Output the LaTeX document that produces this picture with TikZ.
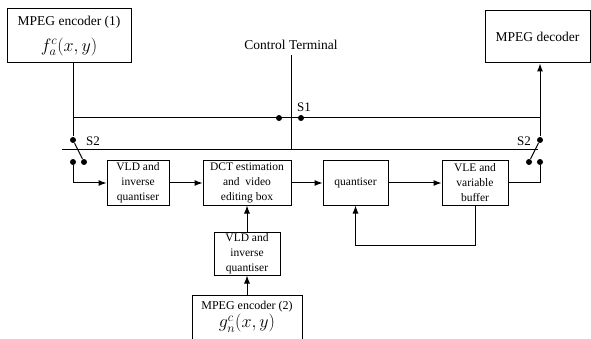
\RequirePackage{fix-cm}
\documentclass[tikz,border=0pt]{standalone}
\usepackage{fontspec}
\setmainfont{Liberation Serif}
\usepackage{amsmath}
\usepackage{tikz}
\usetikzlibrary{arrows.meta}
\tikzstyle{block}=[rectangle, draw, line width=1pt, align=center, inner sep=0pt, font=\fontsize{11.5}{15}\selectfont]
\tikzstyle{big block}=[block, font=\fontsize{13.5}{26}\selectfont]
\tikzstyle{dot}=[circle, fill, inner sep=0pt, minimum size=6pt]
\tikzstyle{tag}=[inner sep=0pt, font=\fontsize{13}{15}\selectfont]
\newcommand{\formula}[1]{{\fontsize{18}{20}\selectfont$#1$}}

\begin{document}
\begin{tikzpicture}[x=1pt, y=-1pt, line width=1pt, >={Latex[length=8pt, width=6pt]}]
\useasboundingbox (0,0) rectangle (591,339);

\node[big block, minimum width=124pt, minimum height=54pt] (enc1) at (69, 36)
  {MPEG encoder (1)\\ \formula{f_a^c(x,y)}};
\node[big block, minimum width=105pt, minimum height=52pt] (dec) at (537.5, 37) {MPEG decoder};
\node[tag, font=\fontsize{13.5}{15}\selectfont] (ct) at (291, 45) {Control Terminal};

\node[block, minimum width=62pt, minimum height=44pt] (vld1) at (138, 183) {VLD and\\ inverse\\ quantiser};
\node[block, minimum width=88pt, minimum height=44pt] (dct) at (247, 183) {DCT estimation\\ and\ \ video\\ editing box};
\node[block, minimum width=65pt, minimum height=44pt] (quant) at (355.5, 183) {quantiser};
\node[block, minimum width=66pt, minimum height=44pt] (vle) at (475, 183) {VLE and\\ variable\\ buffer};
\node[block, minimum width=66pt, minimum height=43pt] (vld2) at (247, 253.5) {VLD and\\ inverse\\ quantiser};
\node[block, minimum width=110pt, minimum height=44pt, font=\fontsize{12}{18}\selectfont] (enc2) at (247, 317)
  {MPEG encoder (2)\\ \formula{g_n^c(x,y)}};

% switches
\node[dot] (s1a) at (279, 118) {};
\node[dot] (s1b) at (301, 118) {};
\node[dot] (s2lt) at (73, 140) {};
\node[dot] (s2la) at (73, 162) {};
\node[dot] (s2lb) at (84, 162) {};
\node[dot] (s2rt) at (540, 140) {};
\node[dot] (s2ra) at (529, 162) {};
\node[dot] (s2rb) at (540, 162) {};
\node[tag] (s1) at (304, 107) {S1};
\node[tag] (s2l) at (93, 141) {S2};
\node[tag] (s2r) at (524, 141) {S2};

\coordinate (jl) at (73, 118);
\coordinate (jr) at (540, 118);
\coordinate (busl) at (62, 150);
\coordinate (busr) at (538, 150);

\draw (s2lt |- enc1.south) -- (s2lt);
\draw (jl) -- (jr);
\draw[->] (s2rt) -- (s2rt |- dec.south);
\draw (busl) -- (busr);
\draw ([yshift=-5pt]ct.south) -- (ct.south |- busl);
\draw (s2lt) -- (s2lb);
\draw (s2rt) -- (s2ra);

\draw[->] (s2la) |- (vld1.west);
\draw[->] (vld1) -- (dct);
\draw[->] (dct) -- (quant);
\draw[->] (quant) -- (vle);
\draw (vle.east) -| (s2rb);
\draw[->] (vle.south) -- ++(0, 40) -| (quant.south);
\draw[->] (vld2) -- (dct);
\draw[->] (enc2) -- (vld2);
\end{tikzpicture}
\end{document}
